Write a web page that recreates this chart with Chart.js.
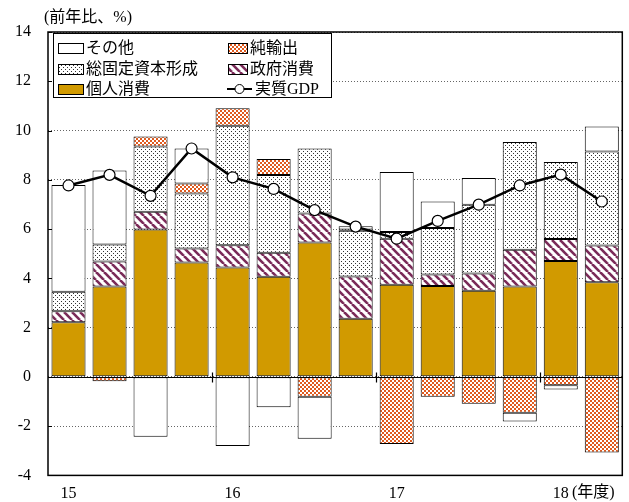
<!DOCTYPE html>
<html>
<head>
<meta charset="utf-8">
<script src="https://cdn.jsdelivr.net/npm/chart.js@4"></script>
<style>
  body { margin: 0; background: #fff; }
  canvas { display: block; }
</style>
</head>
<body>
<canvas id="gdpChart" width="629" height="502"></canvas>
<script>
'use strict'

// quarters 15Q1 .. 18Q2
const quarterLabels = ['15', '', '', '', '16', '', '', '', '17', '', '', '', '18', ''];
const personal   = [2.22, 3.67, 5.98, 4.64, 4.44, 4.06, 5.45, 2.36, 3.74, 3.69, 3.50, 3.67, 4.70, 3.84];
const government = [0.44, 1.01, 0.72, 0.57, 0.90, 0.98, 1.18, 1.71, 1.87, 0.47, 0.70, 1.49, 0.90, 1.49];
const investment = [0.80, 0.69, 2.65, 2.23, 4.85, 3.15, 2.64, 1.86, 0.27, 1.88, 2.79, 4.37, 3.12, 3.82];
const netExports = [-0.05, -0.18, 0.41, 0.41, 0.71, 0.65, -0.81, 0.05, -2.73, -0.81, -1.09, -1.46, -0.34, -3.07];
const others     = [4.33, 3.01, -2.43, 1.42, -2.81, -1.23, -1.70, 0.13, 2.44, 1.08, 1.08, -0.35, -0.17, 1.01];
const realGdp    = [7.77, 8.20, 7.35, 9.27, 8.10, 7.63, 6.77, 6.10, 5.61, 6.33, 6.99, 7.77, 8.21, 7.12];
const yTicks = { min: -4, max: 14, step: 2 };

const FONT = "'Liberation Serif', 'Noto Sans CJK JP', serif";
const canvas = document.getElementById('gdpChart');
const mainCtx = canvas.getContext('2d');

function makePattern(w, h, draw) {
    const c = document.createElement('canvas');
    c.width = w;
    c.height = h;
    const g = c.getContext('2d');
    draw(g);
    return mainCtx.createPattern(c, 'repeat');
}

const gold = '#D19A00';
const stripes = makePattern(8, 8, g => {
    g.fillStyle = '#fff';
    g.fillRect(0, 0, 8, 8);
    g.strokeStyle = '#7A2A58';
    g.lineWidth = 2.6;
    for (let k = -8; k <= 8; k += 8) {
        g.beginPath();
        g.moveTo(k, 0);
        g.lineTo(k + 8, 8);
        g.stroke();
    }
});
const dots = makePattern(4, 4, g => {
    g.fillStyle = '#fff';
    g.fillRect(0, 0, 4, 4);
    g.fillStyle = '#333';
    g.fillRect(1, 1, 1, 1);
    g.fillRect(3, 3, 1, 1);
});
const checker = makePattern(4, 4, g => {
    g.fillStyle = '#E05A1E';
    g.fillRect(0, 0, 4, 4);
    g.fillStyle = '#fff';
    g.fillRect(0, 0, 2, 2);
    g.fillRect(2, 2, 2, 2);
});

function barSet(label, data, fill) {
    return {
        type: 'bar',
        label: label,
        data: data,
        backgroundColor: fill,
        borderColor: '#000',
        borderWidth: 1,
        borderSkipped: false,
        stack: 'parts',
        order: 1,
        categoryPercentage: 1,
        barPercentage: 0.83
    };
}

const decor = {
    id: 'decor',
    beforeDatasetsDraw(chart) {
        const { ctx, chartArea: a, scales: { x, y } } = chart;
        const y0 = Math.round(y.getPixelForValue(0)) + 0.5;
        ctx.save();
        ctx.strokeStyle = '#000';
        ctx.lineWidth = 1.2;
        ctx.beginPath();
        ctx.moveTo(a.left, y0);
        ctx.lineTo(a.right, y0);
        [3.5, 7.5, 11.5].forEach(v => {
            const px = Math.round((x.getPixelForValue(Math.floor(v)) + x.getPixelForValue(Math.ceil(v))) / 2) + 0.5;
            ctx.moveTo(px, y0 - 5);
            ctx.lineTo(px, y0 + 5);
        });
        ctx.stroke();
        ctx.restore();
    },
    afterDraw(chart) {
        const { ctx, chartArea: a, scales: { y } } = chart;
        ctx.save();
        // frame
        ctx.strokeStyle = '#000';
        ctx.lineWidth = 1.5;
        ctx.strokeRect(a.left, a.top, a.right - a.left, a.bottom - a.top);
        // inward y ticks
        ctx.lineWidth = 1;
        ctx.beginPath();
        for (let v = yTicks.min; v <= yTicks.max; v += yTicks.step) {
            const py = Math.round(y.getPixelForValue(v)) + 0.5;
            ctx.moveTo(a.left, py);
            ctx.lineTo(a.left + 4, py);
        }
        ctx.stroke();

        ctx.fillStyle = '#000';
        ctx.font = '16px ' + FONT;
        ctx.textBaseline = 'middle';
        ctx.textAlign = 'left';
        ctx.fillText('(前年比、%)', 44, 18);
        ctx.fillText('(年度)', 572, 493);

        // legend
        const lx = 53, ly = 33, lw = 278, lh = 64;
        ctx.fillStyle = '#fff';
        ctx.fillRect(lx, ly, lw, lh);
        ctx.strokeStyle = '#000';
        ctx.lineWidth = 1;
        ctx.strokeRect(lx + 0.5, ly + 0.5, lw, lh);
        const rows = [48, 69, 89];
        const items = [
            { text: 'その他', fill: '#fff', x: 58, w: 25, row: 0 },
            { text: '純輸出', fill: checker, x: 228, w: 19, row: 0 },
            { text: '総固定資本形成', fill: dots, x: 58, w: 25, row: 1 },
            { text: '政府消費', fill: stripes, x: 228, w: 19, row: 1 },
            { text: '個人消費', fill: gold, x: 58, w: 25, row: 2 }
        ];
        items.forEach(it => {
            const cy = rows[it.row];
            ctx.fillStyle = it.fill;
            ctx.fillRect(it.x, cy - 5, it.w, 10);
            ctx.strokeStyle = '#000';
            ctx.strokeRect(it.x + 0.5, cy - 4.5, it.w, 10);
            ctx.fillStyle = '#000';
            ctx.fillText(it.text, it.x + it.w + 3, cy + 1);
        });
        // GDP line entry
        const gy = rows[2];
        ctx.lineWidth = 2;
        ctx.beginPath();
        ctx.moveTo(227, gy);
        ctx.lineTo(252, gy);
        ctx.stroke();
        ctx.beginPath();
        ctx.arc(239.5, gy, 4.5, 0, Math.PI * 2);
        ctx.fillStyle = '#fff';
        ctx.fill();
        ctx.lineWidth = 1;
        ctx.stroke();
        ctx.fillStyle = '#000';
        ctx.fillText('実質GDP', 255, gy + 1);
        ctx.restore();
    }
};

new Chart(canvas, {
    data: {
        labels: quarterLabels,
        datasets: [
            {
                type: 'line',
                label: '実質GDP',
                data: realGdp,
                stack: 'gdp',
                order: 0,
                borderColor: '#000',
                borderWidth: 2.5,
                pointRadius: 5.5,
                pointBackgroundColor: '#fff',
                pointBorderColor: '#000',
                pointBorderWidth: 1.2,
                tension: 0
            },
            barSet('個人消費', personal, gold),
            barSet('政府消費', government, stripes),
            barSet('総固定資本形成', investment, dots),
            barSet('純輸出', netExports, checker),
            barSet('その他', others, '#fff')
        ]
    },
    options: {
        responsive: false,
        animation: false,
        layout: { padding: { top: 32, right: 4, left: 0, bottom: 0 } },
        plugins: {
            legend: { display: false },
            tooltip: { enabled: false }
        },
        scales: {
            x: {
                stacked: true,
                grid: { display: false, drawTicks: false },
                border: { display: false },
                ticks: {
                    autoSkip: false,
                    maxRotation: 0,
                    padding: 9,
                    color: '#000',
                    font: { family: FONT, size: 16 }
                },
                afterFit(scale) { scale.height = 25; }
            },
            y: {
                stacked: true,
                min: yTicks.min,
                max: yTicks.max,
                grid: { color: '#666', lineWidth: 1, drawTicks: false },
                border: { display: false, dash: [1, 2] },
                ticks: {
                    stepSize: yTicks.step,
                    padding: 17,
                    color: '#000',
                    font: { family: FONT, size: 16 }
                },
                afterFit(scale) { scale.width = 48; }
            }
        }
    },
    plugins: [decor]
});
</script>
</body>
</html>
